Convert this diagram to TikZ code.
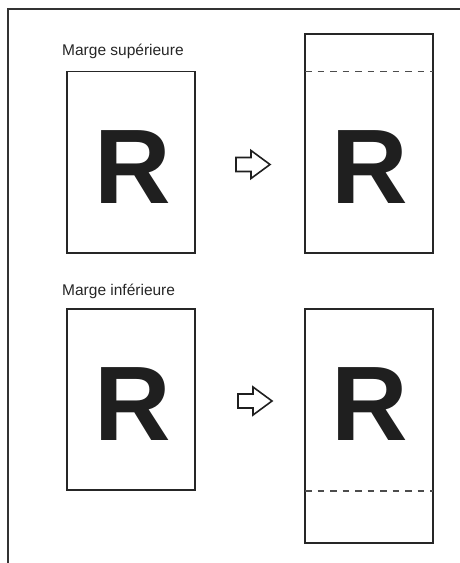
\documentclass[tikz,border=0pt]{standalone}
\usepackage{fontspec}
\setmainfont{Liberation Sans}
\begin{document}
\begin{tikzpicture}[x=1bp,y=-1bp,
  page/.style={draw=black!85,line width=1.2bp},
  margin/.style={draw=black!70,line width=1.2bp,dash pattern=on 6.5bp off 6bp},
  letter/.style={anchor=base,inner sep=0pt,font=\fontsize{106bp}{106bp}\bfseries\selectfont,text=black!88},
  label/.style={anchor=base west,inner sep=0pt,font=\fontsize{15.5bp}{18bp}\selectfont,text=black!85},
  bigarrow/.style={draw=black!88,line width=1.6bp,fill=white}]
\useasboundingbox (0,0) rectangle (460,563);
% frame
\draw[black!80,line width=1.3bp] (460,9) -- (8,9) -- (8,563);
% labels
\node[label] (lsup) at (62,56) {Marge supérieure};
\node[label] (linf) at (62,295) {Marge inférieure};
% top row
\draw[page] (67,71.5) rectangle (195,253);
\node[letter] (r1) at (132.5,203) {R};
\draw[page] (305,34) rectangle (433,253);
\draw[margin] (305,71.5) -- (433,71.5);
\node[letter] (r2) at (369.5,203) {R};
\draw[bigarrow] (236,157.5) -- (251,157.5) -- (251,150.5) -- (270,164.5) -- (251,178.5) -- (251,171.5) -- (236,171.5) -- cycle;
% bottom row
\draw[page] (67,309) rectangle (195,490);
\node[letter] (r3) at (132.5,440.5) {R};
\draw[page] (305,309) rectangle (433,543);
\draw[margin] (305,491) -- (433,491);
\node[letter] (r4) at (369.5,440.5) {R};
\draw[bigarrow] (238,394) -- (253,394) -- (253,387) -- (272,401) -- (253,415) -- (253,408) -- (238,408) -- cycle;
\end{tikzpicture}
\end{document}
